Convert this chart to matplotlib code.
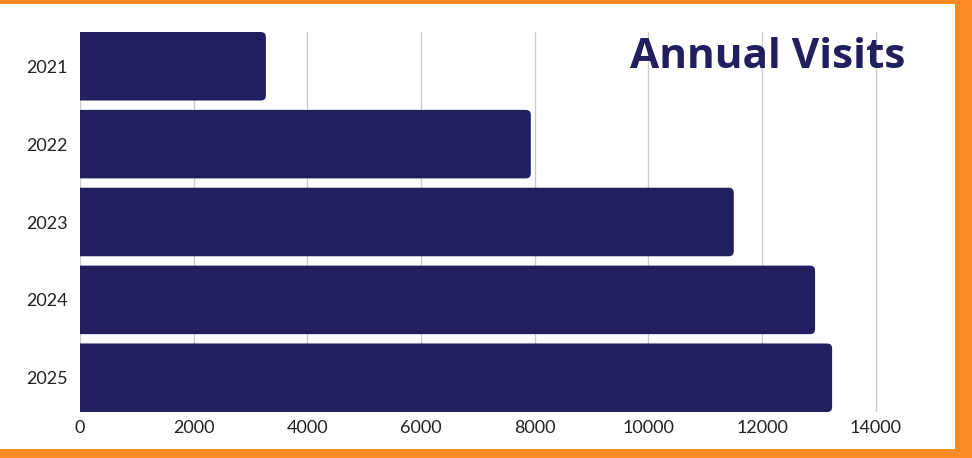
import matplotlib.pyplot as plt
from matplotlib.patches import FancyBboxPatch, Rectangle

years = ["2021", "2022", "2023", "2024", "2025"]
visits = [3270, 7930, 11500, 12930, 13230]

bar_color = "#221f5e"
orange = "#fa8a24"

fig = plt.figure(figsize=(9.72, 4.58), dpi=100)
fig.patch.set_facecolor("white")

# plot area in pixels: x 80..910, y 32..412 (from top)
ax = fig.add_axes([80 / 972, 46 / 458, 830 / 972, 380 / 458])
ax.set_xlim(0, 14600)
ax.set_ylim(len(years) - 0.56, -0.44)

bars = ax.barh(years, visits, height=0.88, color=bar_color)

# swap the plain bars for ones with rounded right corners
px_x = 830 / 14600          # pixels per data unit along x
px_y = 380 / 4.88           # pixels per data unit along y
r = 5 / px_x
aspect = (5 / px_y) / r
for b in bars:
    x0, y0 = b.get_x(), b.get_y()
    w, h = b.get_width(), b.get_height()
    b.set_visible(False)
    p = FancyBboxPatch((x0 - r * 2, y0), w + r * 2, h,
                       boxstyle=f"round,pad=0,rounding_size={r}",
                       mutation_aspect=aspect,
                       facecolor=bar_color, edgecolor="none", zorder=2)
    ax.add_patch(p)

ax.set_xticks(range(0, 14001, 2000))
ax.grid(axis="x", color="#cccccc", linewidth=1, zorder=0)
ax.set_axisbelow(True)
for s in ax.spines.values():
    s.set_visible(False)
ax.tick_params(length=0, labelsize=13, labelcolor="#222222")
ax.tick_params(axis="y", pad=9)
ax.tick_params(axis="x", pad=6)
for lab in ax.get_xticklabels() + ax.get_yticklabels():
    lab.set_fontfamily("Lato")

fig.text(905 / 972, 1 - 57 / 458, "Annual Visits", ha="right", va="center",
         fontsize=30.5, fontweight="bold", color=bar_color, family="Open Sans")

# orange frame on top, right and bottom
fig.patches.append(Rectangle((0, 1 - 4 / 458), 1, 4 / 458, transform=fig.transFigure,
                             facecolor=orange, edgecolor="none"))
fig.patches.append(Rectangle((955 / 972, 0), 17 / 972, 1, transform=fig.transFigure,
                             facecolor=orange, edgecolor="none"))
fig.patches.append(Rectangle((0, 0), 1, 9 / 458, transform=fig.transFigure,
                             facecolor=orange, edgecolor="none"))

fig.savefig("out.png", dpi=100)
